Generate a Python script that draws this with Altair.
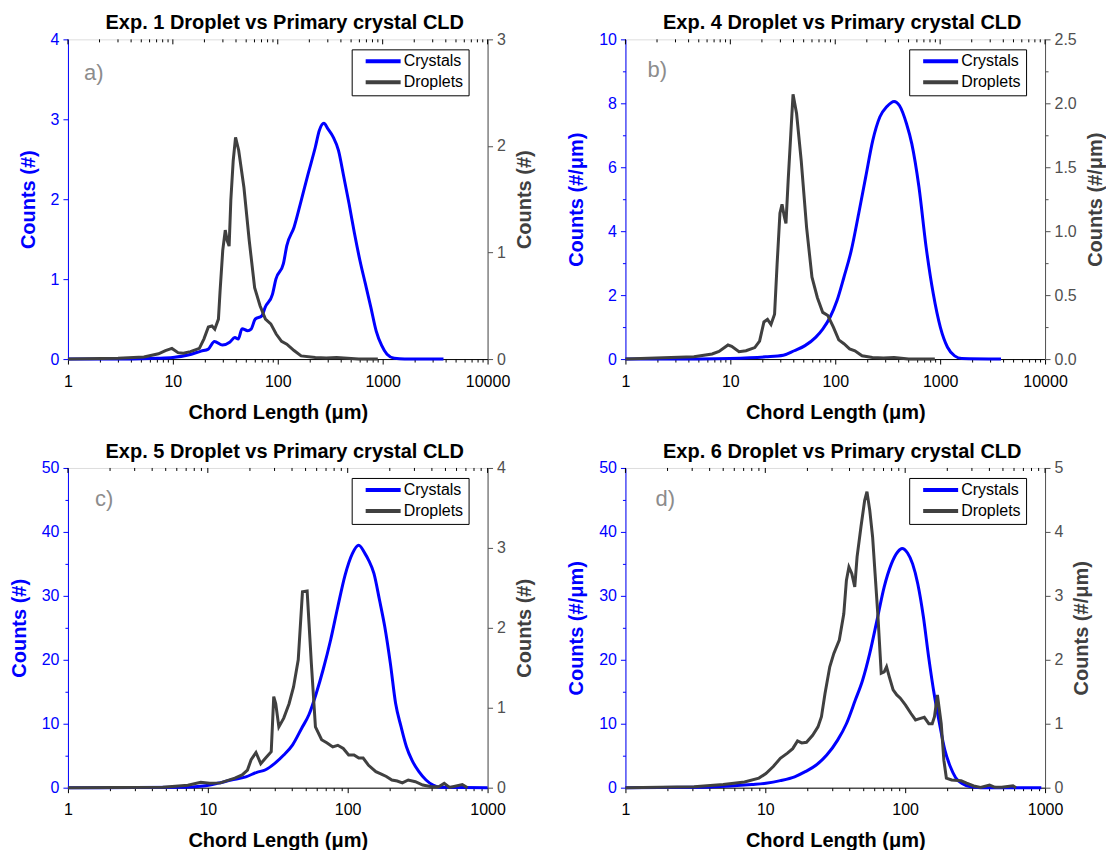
import altair as alt
import pandas as pd

BLUE = "#0000FF"
GRAY = "#404040"
AXGRAY = "#505050"
FONT = "Liberation Sans"

# ---------------- data ----------------
a_cry_x = [1, 3, 5, 7, 10, 14, 18.6, 21.8, 24.9, 29.7, 34.8, 39, 42, 45.7, 51.6, 55.7, 61, 70.5, 76, 89,
           96, 113, 122, 143, 167, 195, 228, 249, 275, 301, 337, 379, 426, 479, 539, 608, 685, 771, 868, 978,
           1100, 1290, 1620, 3800]
a_cry_y = [0, 0.002, 0.005, 0.01, 0.02, 0.05, 0.1, 0.125, 0.22, 0.175, 0.21, 0.27, 0.25, 0.38, 0.355, 0.375, 0.5, 0.54, 0.65, 0.81,
           1.0, 1.19, 1.42, 1.65, 1.98, 2.32, 2.65, 2.86, 2.95, 2.88, 2.78, 2.61, 2.28, 1.94, 1.57, 1.23, 0.94, 0.65, 0.35, 0.17,
           0.06, 0.01, 0, 0]
a_dro_x = [1, 3, 5.3, 7.3, 8.5, 9.8, 11.2, 12.6, 14.7, 17.9, 19.8, 21.8, 23.6, 25.1, 27.2, 28.2, 29.9, 31.6, 33.0, 34.4,
           35.7, 37.6, 39.6, 42.4, 47.6, 53.5, 60.2, 67.8, 76.3, 85.8, 96.6, 108.7, 122, 143, 167, 228, 290, 364, 590, 900]
a_dro_y = [0, 0.008, 0.02, 0.05, 0.08, 0.10, 0.06, 0.055, 0.07, 0.10, 0.19, 0.30, 0.31, 0.28, 0.375, 0.64, 1.02, 1.21, 1.11, 1.06,
           1.49, 1.86, 2.08, 1.96, 1.61, 1.11, 0.67, 0.5, 0.375, 0.33, 0.235, 0.166, 0.14, 0.08, 0.03, 0.015, 0.01, 0.015, 0, 0]

b_cry_x = [1, 5, 9.9, 21.7, 32, 40.7, 51.5, 65, 76, 89, 104, 121, 142, 167, 195, 228, 266, 311, 364, 409,
           478, 537, 628, 735, 860, 1005, 1175, 1374, 1606, 3800]
b_cry_y = [0, 0.005, 0.02, 0.07, 0.12, 0.26, 0.42, 0.68, 0.94, 1.3, 1.83, 2.56, 3.39, 4.54, 5.69, 6.84, 7.57, 7.9, 8.06, 7.93,
           7.36, 6.73, 5.38, 3.5, 2.04, 0.99, 0.37, 0.1, 0.02, 0]
b_dro_x = [1, 4.5, 6.7, 7.8, 9.5, 10.3, 12.1, 14.1, 17.1, 19, 20.9, 22.6, 24.4, 26.4, 27.9, 29.7, 31.1, 32.6, 33.9, 35.6,
           37.7, 39.6, 42.8, 47.4, 53.3, 60, 67.6, 76, 85, 96, 108, 121, 137, 154, 180, 226, 288, 364, 500, 890]
b_dro_y = [0, 0.018, 0.04, 0.06, 0.11, 0.10, 0.057, 0.065, 0.09, 0.14, 0.29, 0.31, 0.27, 0.35, 0.74, 1.14, 1.21, 1.12, 1.06, 1.40,
           1.76, 2.07, 1.92, 1.55, 1.03, 0.64, 0.48, 0.365, 0.34, 0.25, 0.15, 0.12, 0.08, 0.065, 0.026, 0.013, 0.008, 0.013, 0, 0]

c_cry_x = [1, 3, 6.4, 9.2, 11.7, 14.7, 18.7, 22.4, 25.9, 30.1, 34.9, 40.4, 46.9, 52.8, 59.5, 67, 75.5, 85, 95.7, 108,
           120, 133, 141, 154, 169, 184, 202, 220, 241, 263, 288, 323, 363, 408, 458, 1000]
c_cry_y = [0, 0.01, 0.05, 0.26, 0.68, 1.2, 1.7, 2.4, 2.8, 3.8, 5.1, 6.7, 9.3, 11.4, 14.7, 18.6, 23.1, 28.3, 33.2, 36.6,
           37.9, 36.6, 35.6, 33.5, 29.3, 25.2, 19.4, 13.2, 9.5, 6.4, 4.3, 2.5, 1.2, 0.4, 0.05, 0]
c_dro_x = [1, 4.76, 7.2, 8.9, 10.3, 12.3, 15.6, 17.6, 19.2, 20.4, 22.1, 23.9, 25.9, 28.4, 29.6, 30.6, 32.2, 34.9, 38.1, 41,
           44.3, 47.5, 51.3, 55, 58.8, 65.1, 71.3, 78.2, 85, 93, 101.6, 111, 120, 129, 141, 159, 174, 189, 207, 226,
           246, 271, 305, 344, 398, 447, 490, 535, 660, 720]
c_dro_y = [0, 0.004, 0.03, 0.067, 0.054, 0.06, 0.12, 0.16, 0.22, 0.35, 0.44, 0.30, 0.37, 0.45, 1.14, 1.05, 0.76, 0.87, 1.05, 1.26,
           1.6, 2.45, 2.46, 1.55, 0.76, 0.6, 0.56, 0.51, 0.53, 0.49, 0.41, 0.41, 0.37, 0.37, 0.28, 0.2, 0.17, 0.14, 0.096, 0.083,
           0.06, 0.096, 0.075, 0.033, 0.012, 0.012, 0.054, 0.004, 0.04, 0]

d_cry_x = [1, 3.1, 5.6, 8, 10.1, 12.8, 16.2, 19.3, 23, 27.5, 32.8, 38, 44, 49.6, 55.8, 62.9, 70.8, 79.7, 88.6, 95,
           104, 113, 123, 135, 147, 161, 176, 192, 210, 229, 259, 290, 346, 940]
d_cry_y = [0, 0.05, 0.26, 0.5, 0.7, 1.1, 1.7, 2.5, 3.5, 5.1, 7.4, 10, 13.7, 16.8, 21, 26.2, 31.4, 35, 36.9, 37.4,
           36.7, 35, 31.9, 26.7, 20.5, 14.7, 10, 5.9, 3.3, 1.6, 0.57, 0.16, 0, 0]
d_dro_x = [1, 3.1, 5, 7.1, 9, 10.1, 11.4, 12.8, 14.4, 15.7, 17, 18.2, 19.7, 21.8, 23.8, 25.2, 26.7, 28.9, 30.9, 33.8,
           36.4, 38, 39.6, 41.5, 43.6, 45.3, 48.3, 51.3, 53.3, 55.8, 58.5, 60.9, 63.9, 67.4, 70.8, 73.6, 77.1, 82, 87.1, 92.3,
           100.6, 110, 118.6, 127, 137, 147.5, 156, 162, 170, 181, 189, 197, 215, 251, 275, 309, 346, 401, 439, 490,
           590, 620]
d_dro_y = [0, 0.016, 0.05, 0.09, 0.15, 0.22, 0.33, 0.46, 0.54, 0.61, 0.73, 0.70, 0.71, 0.82, 0.95, 1.11, 1.47, 1.89, 2.1, 2.31,
           2.72, 3.24, 3.45, 3.35, 3.14, 3.61, 4.08, 4.49, 4.63, 4.34, 3.92, 3.35, 2.67, 1.79, 1.81, 1.89, 1.73, 1.53, 1.45, 1.4,
           1.29, 1.16, 1.06, 1.08, 1.1, 1.0, 1.0, 1.11, 1.45, 1.0, 0.43, 0.15, 0.12, 0.11, 0.07, 0.026, 0.005, 0.04, 0.005, 0.005,
           0.03, 0]

titles = ["Exp. 1 Droplet vs Primary crystal CLD", "Exp. 4 Droplet vs Primary crystal CLD",
          "Exp. 5 Droplet vs Primary crystal CLD", "Exp. 6 Droplet vs Primary crystal CLD"]
y_titles = ["Counts (#)", "Counts (#/\u03bcm)", "Counts (#)", "Counts (#/\u03bcm)"]
letters = ["a)", "b)", "c)", "d)"]
x_title = "Chord Length (\u03bcm)"
series_names = ["Crystals", "Droplets"]

x_major_4 = [1, 10, 100, 1000, 10000]
x_minor_4 = [2, 3, 4, 5, 6, 7, 8, 9, 20, 30, 40, 50, 60, 70, 80, 90, 200, 300, 400, 500, 600, 700, 800, 900,
             2000, 3000, 4000, 5000, 6000, 7000, 8000, 9000]
x_major_3 = [1, 10, 100, 1000]
x_minor_3 = [2, 3, 4, 5, 6, 7, 8, 9, 20, 30, 40, 50, 60, 70, 80, 90, 200, 300, 400, 500, 600, 700, 800, 900]

left_major = [[0, 1, 2, 3, 4], [0, 2, 4, 6, 8, 10], [0, 10, 20, 30, 40, 50], [0, 10, 20, 30, 40, 50]]
left_minor = [[0.5, 1.5, 2.5, 3.5], [1, 3, 5, 7, 9], [5, 15, 25, 35, 45], [5, 15, 25, 35, 45]]
right_major = [[0, 1, 2, 3], [0, 0.5, 1.0, 1.5, 2.0, 2.5], [0, 1, 2, 3, 4], [0, 1, 2, 3, 4, 5]]
right_minor = [[0.5, 1.5, 2.5], [0.25, 0.75, 1.25, 1.75, 2.25], [0.5, 1.5, 2.5, 3.5], [0.5, 1.5, 2.5, 3.5, 4.5]]

PW, PH = 420, 320


def is_in(vals):
    arr = ",".join(repr(float(v)) for v in vals)
    return f"indexof([{arr}], datum.value) >= 0"


def panel(i, cx, cy, dx, dy, xmaj, xmin, lfmt, rfmt, letter_pos):
    xdom = [xmaj[0], xmaj[-1]]
    xscale = alt.Scale(type="log", domain=xdom, nice=False)
    xtest = is_in(xmaj)
    xaxis = alt.Axis(
        orient="bottom", values=xmaj + xmin, format="d", title=x_title,
        labelExpr=f"({xtest}) ? datum.label : ''",
        tickSize={"condition": {"test": xtest, "value": 5}, "value": 3},
        grid=False, labelFlush=False, labelOverlap=False,
        domainColor="black", tickColor="black", labelColor="black", titleColor="black",
        labelFont=FONT, labelFontSize=16, labelPadding=9,
        titleFont=FONT, titleFontSize=20, titleFontWeight="bold", titlePadding=13,
    )
    ltest = is_in(left_major[i])
    laxis = alt.Axis(
        orient="left", values=left_major[i] + left_minor[i], format=lfmt, title=y_titles[i],
        labelExpr=f"({ltest}) ? datum.label : ''",
        tickSize={"condition": {"test": ltest, "value": 5}, "value": 3},
        grid=False, labelFlush=False, labelOverlap=False,
        domainColor=BLUE, tickColor=BLUE, labelColor=BLUE, titleColor=BLUE,
        labelFont=FONT, labelFontSize=16, labelPadding=4,
        titleFont=FONT, titleFontSize=20, titleFontWeight="bold", titlePadding=12,
    )
    rtest = is_in(right_major[i])
    raxis = alt.Axis(
        orient="right", values=right_major[i] + right_minor[i], format=rfmt, title=y_titles[i],
        labelExpr=f"({rtest}) ? datum.label : ''",
        tickSize={"condition": {"test": rtest, "value": 5}, "value": 3},
        grid=False, labelFlush=False, labelOverlap=False,
        domainColor=AXGRAY, tickColor=AXGRAY, labelColor=AXGRAY, titleColor=GRAY,
        labelFont=FONT, labelFontSize=16, labelPadding=4,
        titleFont=FONT, titleFontSize=20, titleFontWeight="bold", titlePadding=9,
        titleAngle=270, titleBaseline="top",
    )
    color = alt.Color(
        "series:N",
        scale=alt.Scale(domain=series_names, range=[BLUE, GRAY]),
        legend=alt.Legend(
            orient="none", legendX=284, legendY=10, title=None,
            labelFont=FONT, labelFontSize=16, labelColor="black", labelOffset=1,
            symbolType="stroke", symbolStrokeWidth=4, symbolSize=1225, symbolOffset=7,
            clipHeight=14, rowPadding=5,
            strokeColor="black", fillColor="white", padding=5,
            cornerRadius=0,
        ),
    )
    cry = pd.DataFrame({"x": cx, "y": cy, "series": series_names[0]})
    dro = pd.DataFrame({"x": dx, "y": dy, "series": series_names[1]})
    ldom = [left_major[i][0], left_major[i][-1]]
    rdom = [right_major[i][0], right_major[i][-1]]

    l_cry = alt.Chart(cry).mark_line(strokeWidth=3, interpolate="monotone").encode(
        x=alt.X("x:Q", scale=xscale, axis=xaxis),
        y=alt.Y("y:Q", scale=alt.Scale(domain=ldom, nice=False, zero=True), axis=laxis),
        color=color,
    )
    l_dro = alt.Chart(dro).mark_line(strokeWidth=3).encode(
        x=alt.X("x:Q", scale=xscale, axis=xaxis),
        y=alt.Y("y:Q", scale=alt.Scale(domain=rdom, nice=False, zero=True), axis=raxis),
        color=color,
    )
    top_major = alt.Chart(pd.DataFrame({"x": xmaj})).mark_rule(color="black", strokeWidth=1).encode(
        x=alt.X("x:Q", scale=xscale, axis=xaxis), y=alt.value(0), y2=alt.value(5)
    )
    top_minor = alt.Chart(pd.DataFrame({"x": xmin})).mark_rule(color="black", strokeWidth=1).encode(
        x=alt.X("x:Q", scale=xscale, axis=xaxis), y=alt.value(0), y2=alt.value(3)
    )
    lab = alt.Chart(pd.DataFrame({"t": [letters[i]]})).mark_text(
        font=FONT, fontSize=22, color="#8c8c8c", align="left", baseline="alphabetic"
    ).encode(x=alt.value(letter_pos[0]), y=alt.value(letter_pos[1]), text="t:N")

    return alt.layer(l_cry, l_dro, top_major, top_minor, lab).resolve_scale(y="independent").properties(
        width=PW, height=PH,
        title=alt.TitleParams(titles[i], font=FONT, fontSize=20, fontWeight="bold", color="black",
                              anchor="middle", dx=7, offset=-2),
    )


pa = panel(0, a_cry_x, a_cry_y, a_dro_x, a_dro_y, x_major_4, x_minor_4, "d", "d", (16, 41))
pb = panel(1, b_cry_x, b_cry_y, b_dro_x, b_dro_y, x_major_4, x_minor_4, "d", ".1f", (22, 38))
pc = panel(2, c_cry_x, c_cry_y, c_dro_x, c_dro_y, x_major_3, x_minor_3, "d", "d", (27, 38))
pd_ = panel(3, d_cry_x, d_cry_y, d_dro_x, d_dro_y, x_major_3, x_minor_3, "d", "d", (30, 38))

chart = alt.concat(pa, pb, pc, pd_, columns=2, spacing={"row": 18, "column": 30}).resolve_scale(
    color="independent"
).properties(
    padding={"left": 0, "top": 4, "right": 0, "bottom": 0}
).configure_view(stroke="black", strokeWidth=1).configure(font=FONT)

chart.save("out.html", embed_options={"renderer": "svg", "actions": False})
